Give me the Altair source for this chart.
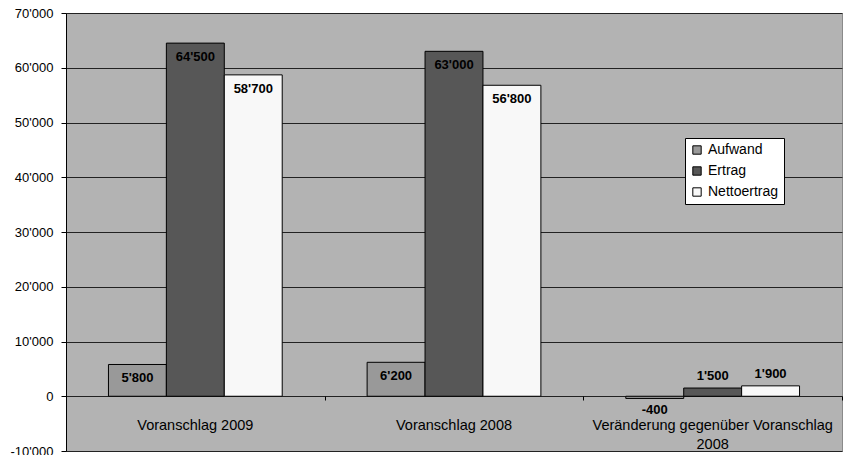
import altair as alt
import pandas as pd

categories = ["Voranschlag 2009", "Voranschlag 2008", "Veränderung gegenüber Voranschlag 2008"]
cat_labels = ["Voranschlag 2009", "Voranschlag 2008", "Veränderung gegenüber Voranschlag\n2008"]
series = ["Aufwand", "Ertrag", "Nettoertrag"]
aufwand = [5800, 6200, -400]
ertrag = [64500, 63000, 1500]
netto = [58700, 56800, 1900]
colors = ["#999999", "#575757", "#f8f8f8"]

rows = []
for i, c in enumerate(categories):
    for s, vals in zip(series, [aufwand, ertrag, netto]):
        rows.append({"cat": c, "series": s, "value": vals[i]})
df = pd.DataFrame(rows)
cat_df = pd.DataFrame({"cat": categories, "label": cat_labels})

FONT = "Liberation Sans"

x_enc = alt.X("cat:N", sort=categories, title=None,
              scale=alt.Scale(paddingInner=0, paddingOuter=0),
              axis=alt.Axis(labels=False, domain=False, ticks=True, tickBand="extent",
                            tickColor="black", tickSize=4, offset=-55, grid=False))
xoff = alt.XOffset("series:N", sort=series,
                   scale=alt.Scale(paddingInner=0, paddingOuter=0.733))
y_enc = alt.Y("value:Q", title=None,
              scale=alt.Scale(domain=[-10000, 70000], nice=False, zero=True),
              axis=alt.Axis(values=list(range(-10000, 70001, 10000)),
                            labelExpr="replace(replace(format(datum.value, ','), ',', \"'\"), '\u2212', '-')",
                            grid=True, gridColor="#222222", gridWidth=1,
                            domainColor="black", tickColor="black", tickSize=5,
                            labelFont=FONT, labelFontSize=13, labelColor="black",
                            labelPadding=8))

base = alt.Chart(df).transform_calculate(
    lbl="replace(replace(format(datum.value, ','), ',', \"'\"), '\u2212', '-')"
)

bars = base.mark_bar(stroke="black", strokeWidth=1).encode(
    x=x_enc,
    xOffset=xoff,
    y=y_enc,
    color=alt.Color("series:N", sort=series,
                    scale=alt.Scale(domain=series, range=colors),
                    legend=alt.Legend(title=None, orient="none", legendX=619, legendY=125,
                                      fillColor="white", strokeColor="black", padding=5,
                                      symbolType="square", symbolSize=70,
                                      symbolStrokeColor="black", symbolStrokeWidth=1,
                                      labelFont=FONT, labelFontSize=14, labelColor="black",
                                      rowPadding=7, labelOffset=4, cornerRadius=0)),
)

def txt(cond, dy):
    return base.transform_filter(cond).mark_text(
        font=FONT, fontSize=13, fontWeight="bold", color="black",
        baseline="middle", dy=dy
    ).encode(
        x=alt.X("cat:N", sort=categories),
        xOffset=alt.XOffset("series:N", sort=series),
        y=alt.Y("value:Q"),
        text="lbl:N",
    )

t_big = txt("datum.value >= 5000", 14)
t_small = txt("datum.value >= 0 && datum.value < 5000", -12)
t_neg = txt("datum.value < 0", 12)

cat_text = alt.Chart(cat_df).mark_text(
    font=FONT, fontSize=14.5, color="black", baseline="middle", lineBreak="\n", lineHeight=19
).encode(
    x=alt.X("cat:N", sort=categories),
    y=alt.value(413),
    text="label:N",
)

chart = alt.layer(bars, t_big, t_small, t_neg, cat_text).properties(
    width=776, height=438,
    autosize=alt.AutoSizeParams(type="none"),
    padding={"left": 66, "top": 13, "right": 1, "bottom": 4},
    background="white",
).configure_view(fill="#b3b3b3", stroke="#8a8a8a", strokeWidth=1)

chart.save("out.html", embed_options={"renderer": "svg", "actions": False})
